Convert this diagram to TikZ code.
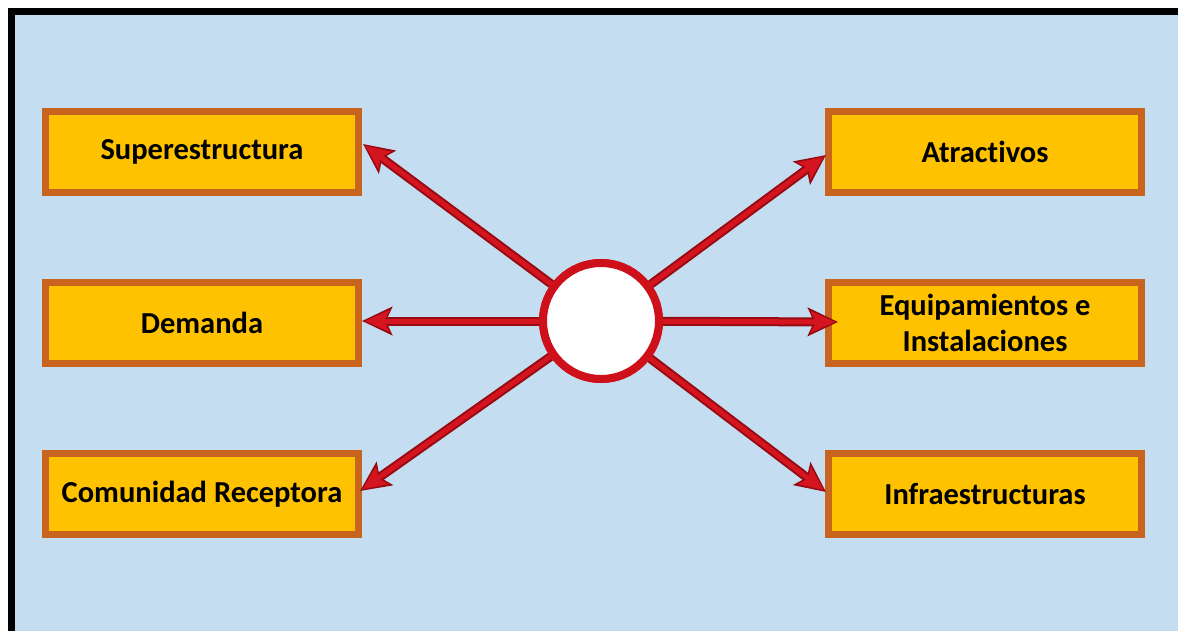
\documentclass[tikz,border=0pt]{standalone}
\usepackage{fontspec}
\setmainfont{Carlito}[Ligatures=NoCommon]
\usetikzlibrary{arrows.meta}
\definecolor{bgblue}{RGB}{197,221,241}
\definecolor{boxfill}{RGB}{255,194,0}
\definecolor{boxedge}{RGB}{200,100,30}
\definecolor{arrdark}{RGB}{150,10,18}
\definecolor{arrred}{RGB}{212,20,30}
\definecolor{ringred}{RGB}{206,16,26}
\tikzset{
  box/.style={draw=boxedge, line width=6.5pt, fill=boxfill, minimum width=313pt, minimum height=81pt,
    inner sep=0pt, align=center, font=\fontsize{30.5}{36}\selectfont\bfseries, text=black},
  hub/.style={circle, draw=ringred, line width=8pt, fill=white, minimum size=116pt, inner sep=0pt},
  arrbase/.style={draw=arrdark, line width=9pt, -{Stealth[length=30pt,width=28pt,inset=6pt]}},
  arrtop/.style={draw=arrred, line width=5pt, -{Stealth[length=24pt,width=21pt,inset=5pt]}, shorten >=3pt}
}
\begin{document}
\begin{tikzpicture}[x=1pt,y=-1pt]
\useasboundingbox (0,0) rectangle (1178,631);
\fill[white] (0,0) rectangle (1178,631);
\fill[bgblue] (11,12) rectangle (1178,631);
\draw[black, line width=7pt] (11,640) -- (11,12) -- (1185,12);
\node[box] (sup) at (202,152) {Superestructura};
\node[box] (dem) at (202,323) {Demanda};
\node[box] (com) at (202,494) {Comunidad Receptora};
\node[box] (atr) at (985,152) {Atractivos};
\node[box] (equ) at (985,323) {Equipamientos e\\Instalaciones};
\node[box] (inf) at (985,494) {Infraestructuras};
\node[hub] (c) at (601,321) {};
\coordinate (tsup) at (363,144);
\coordinate (tdem) at (362,321);
\coordinate (tcom) at (360,491);
\coordinate (tatr) at (826,155);
\coordinate (tequ) at (838,322);
\coordinate (tinf) at (826,492);
\foreach \t in {tsup,tdem,tcom,tatr,tequ,tinf}{
  \draw[arrbase] (c) -- (\t);
  \draw[arrtop] (c) -- (\t);
}
\node[hub] at (c) {};
\end{tikzpicture}
\end{document}
